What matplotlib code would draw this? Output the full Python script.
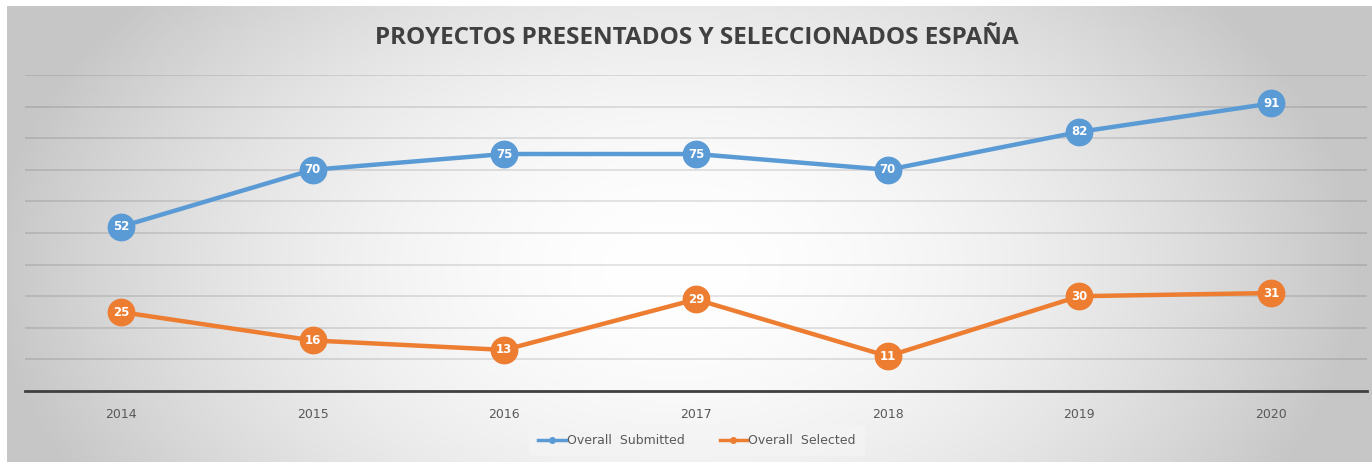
import numpy as np
import matplotlib.pyplot as plt
from matplotlib.lines import Line2D

years = ["2014", "2015", "2016", "2017", "2018", "2019", "2020"]
submitted = [52, 70, 75, 75, 70, 82, 91]
selected = [25, 16, 13, 29, 11, 30, 31]

blue = "#5b9bd5"
orange = "#ed7d31"

W, H = 1372, 462
fig = plt.figure(figsize=(W / 100, H / 100), dpi=100)
fig.patch.set_facecolor("white")

# radial gradient background (wide ellipse, bright in the middle)
bg = fig.add_axes([7 / W, 0, (W - 7) / W, (H - 6) / H])
gx, gy = np.meshgrid(np.linspace(-1, 1, 400), np.linspace(-1, 1, 150))
r = np.sqrt((gx + 0.02) ** 2 + ((gy - 0.15) / 1.9) ** 2)
shade = 1.0 - 0.22 * np.clip(r, 0, 1.0) ** 1.8
bg.imshow(np.dstack([shade] * 3), aspect="auto", extent=[0, 1, 0, 1])
bg.axis("off")

ax = fig.add_axes([25 / W, (H - 391) / H, (1367 - 25) / W, 316 / H])
ax.patch.set_alpha(0)
x = np.arange(len(years))
ax.set_xlim(-0.5, len(years) - 0.5)
ax.set_ylim(0, 100)
ax.set_yticks(np.arange(10, 101, 10))
ax.yaxis.grid(True, color="black", alpha=0.12, lw=1.2)
ax.set_axisbelow(True)
ax.tick_params(axis="y", left=False, labelleft=False)
ax.tick_params(axis="x", length=0, pad=12, labelsize=9, labelcolor="#595959")
ax.set_xticks(x)
ax.set_xticklabels(years)
for s in ["left", "right", "top"]:
    ax.spines[s].set_visible(False)
ax.spines["bottom"].set_color("#404040")
ax.spines["bottom"].set_linewidth(2)

for vals, col in [(submitted, blue), (selected, orange)]:
    ax.plot(x, vals, color=col, lw=3.2, marker="o", ms=19, mfc=col, mec=col,
            zorder=3, solid_capstyle="round")
    for xi, v in zip(x, vals):
        ax.text(xi, v, str(v), color="white", fontsize=8.5, fontweight="bold",
                ha="center", va="center", zorder=4)

handles = [Line2D([], [], color=blue, lw=2.5, marker="o", ms=4),
           Line2D([], [], color=orange, lw=2.5, marker="o", ms=4)]
leg = fig.legend(handles, ["Overall  Submitted", "Overall  Selected"], loc="center",
                 bbox_to_anchor=(697 / W, (H - 441) / H), ncol=2, frameon=True,
                 fontsize=9, handlelength=2.2, handletextpad=0.1, columnspacing=2.8,
                 borderpad=0.5)
leg.get_frame().set_facecolor("#f4f4f4")
leg.get_frame().set_edgecolor("none")
leg.get_frame().set_boxstyle("square", pad=0.2)
for t in leg.get_texts():
    t.set_color("#595959")

fig.text(697 / W, (H - 38) / H, "PROYECTOS PRESENTADOS Y SELECCIONADOS ESPAÑA",
         ha="center", va="center", fontsize=17.5, fontweight="bold", color="#404040",
         family="Open Sans")

fig.savefig("out.png", dpi=100)
